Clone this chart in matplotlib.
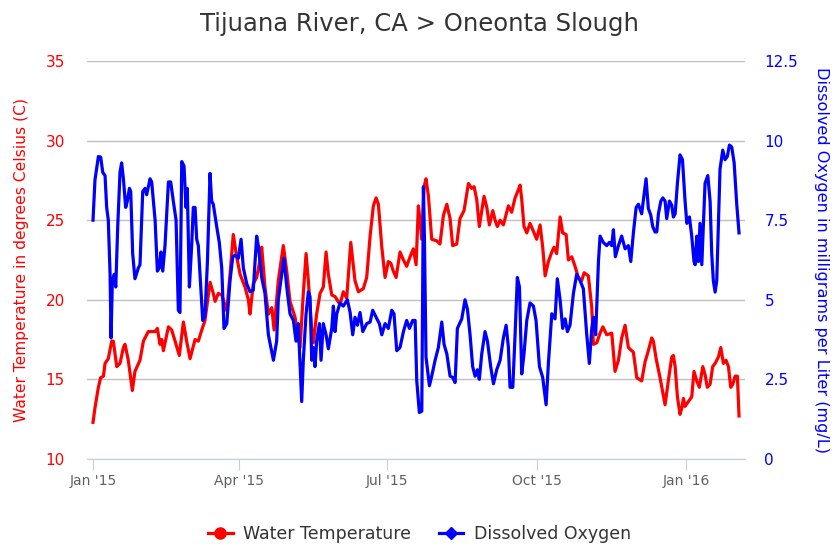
import pandas as pd
import matplotlib.pyplot as plt
import matplotlib.dates as mdates
from matplotlib.lines import Line2D

# Jours depuis le 1er janvier 2015 et valeurs
temp_days = [0, 1.2, 3.3, 4.7, 6.4, 7.4, 9.4, 11.5, 12.5, 14.6, 16.6, 18.7, 19.7, 21.7, 24.2, 25.8,
             28.9, 31, 34, 38.2, 39.6, 41.2, 42.3, 43.3, 46.4, 48.4, 50.5, 53.1, 55.6, 57.6, 59.7,
             62.8, 64.8, 66.9, 68.9, 72, 74, 75.1, 77.1, 79.2, 82.3, 84.3, 86.3, 88.4, 90.5, 93.5,
             95.6, 96.6, 98.6, 100.7, 102.8, 103.8, 105.8, 107.9, 110, 111.4, 114, 117.1, 119.2,
             121.2, 124.3, 127.4, 129.4, 131.1, 132.5, 134.6, 135.6, 137.6, 139.7, 141.7, 143.4,
             144.8, 146.9, 148.9, 152, 154, 156.1, 158.6, 161.2, 163.3, 166.3, 168.4, 170.5, 172.5,
             174.2, 175.6, 177.7, 179.7, 181.7, 183.2, 184.8, 186.5, 188.9, 191, 193, 195.1, 197.1,
             198.8, 200.2, 201.2, 202.3, 203.7, 204.9, 206.4, 208.4, 211.5, 213.5, 215.6, 217.7,
             219.7, 221.3, 223.8, 225.8, 228.3, 231, 233, 234.5, 236.1, 237.7, 239.2, 240.6, 242.3,
             243.9, 246, 247.4, 248.8, 250.5, 252.5, 255.6, 257.6, 259.7, 261.7, 262.8, 263.8,
             265.2, 266.9, 268.9, 271, 273, 275.1, 276.7, 278.2, 280.2, 282.3, 283.7, 285.3, 287.4,
             289, 291.1, 292.5, 294.6, 296.6, 298.6, 300.7, 302.2, 304.8, 306.9, 307.9, 310, 312,
             313.7, 316.1, 319.2, 321.2, 323.3, 325.3, 327.4, 329.4, 332.5, 334.6, 337.6, 339.7,
             341.7, 343.8, 344.8, 346.5, 348.9, 352, 354, 356.1, 357.1, 358.2, 359.6, 361.2, 362.3,
             363.3, 364.3, 366.3, 368.4, 369.8, 371.5, 373.1, 375.2, 376.6, 378, 379.7, 381.3,
             382.8, 384.8, 386.3, 387.9, 389.5, 391, 392.4, 393.7, 395.1, 396.5, 397.5]
temp_values = [12.3, 13.2, 14.5, 15.1, 15.2, 16.0, 16.3, 17.4, 17.4, 15.8, 16.0, 17.0, 17.2, 16.2,
               14.3, 15.5, 16.2, 17.4, 18.0, 18.0, 18.2, 17.2, 17.5, 16.8, 18.3, 18.1, 17.4, 16.5,
               18.6, 17.4, 16.3, 17.5, 17.4, 18.1, 18.7, 21.1, 20.4, 19.9, 20.4, 20.3, 19.3, 21.6,
               24.1, 22.7, 21.6, 20.8, 20.0, 19.1, 21.0, 21.4, 22.5, 23.3, 20.8, 19.1, 19.5, 18.1,
               21.2, 23.4, 21.8, 19.9, 18.9, 17.0, 20.4, 22.9, 21.2, 18.1, 17.3, 19.1, 20.4, 20.8,
               23.0, 21.6, 20.3, 20.2, 19.7, 20.5, 20.1, 23.6, 21.2, 20.5, 20.7, 21.4, 24.0, 25.9,
               26.4, 26.0, 23.3, 21.4, 22.4, 22.3, 21.8, 21.4, 23.0, 22.5, 22.1, 22.7, 23.2, 22.2,
               25.9, 25.0, 23.8, 27.1, 27.6, 26.5, 23.8, 23.7, 23.5, 25.3, 26.0, 25.1, 23.4, 23.5,
               25.1, 25.6, 27.3, 27.0, 27.1, 26.3, 24.6, 25.6, 26.5, 25.8, 24.7, 25.6, 25.0, 24.6,
               25.0, 24.7, 25.9, 25.5, 26.4, 26.9, 27.2, 26.3, 24.6, 24.2, 24.8, 24.3, 23.8, 24.7,
               23.3, 21.5, 22.4, 23.0, 23.3, 22.9, 25.2, 24.2, 24.1, 22.5, 22.7, 22.1, 21.4, 21.2,
               21.7, 21.5, 19.5, 17.2, 17.3, 17.9, 18.3, 17.8, 17.9, 15.5, 16.2, 17.6, 18.4, 17.0,
               16.7, 15.1, 14.9, 16.1, 16.8, 17.6, 17.4, 16.3, 15.1, 13.4, 14.9, 16.4, 16.5, 15.8,
               13.9, 12.8, 13.2, 13.8, 13.3, 13.6, 13.9, 15.5, 14.9, 14.5, 15.8, 15.3, 14.5, 14.7,
               15.8, 16.0, 16.4, 17.0, 16.0, 16.2, 15.8, 14.5, 14.7, 15.2, 15.2, 12.7]

do_days = [0, 1.2, 3.3, 4.7, 6, 7.4, 8.4, 9.4, 10.5, 11.1, 11.9, 13.1, 14, 15.2, 16.6, 17.6, 18.7,
           20.1, 21.1, 22.4, 23.2, 24.4, 25.8, 27.9, 28.9, 30.6, 32, 33, 35.1, 36.1, 38.2, 39.6,
           40.8, 41.8, 42.9, 44.3, 46.4, 47.8, 49.4, 51.1, 52.5, 53.5, 54.6, 56, 57.2, 58, 59.3,
           60.7, 61.7, 62.8, 63.8, 64.8, 66.3, 67.5, 68.9, 70.4, 72, 73, 74, 76.1, 77.7, 79.2,
           80.6, 82.3, 84.3, 86, 87.4, 89.4, 91.1, 92.5, 94.6, 96.6, 98.6, 100.7, 101.7, 103.8,
           105.8, 107.9, 111, 113, 114, 116.1, 117.5, 119.2, 121.2, 123.3, 124.9, 126.3, 128.4,
           129.4, 131.1, 132.5, 133.5, 134.6, 135.6, 136.6, 137.6, 139.3, 140.3, 141.7, 143.4,
           144.8, 146.9, 147.9, 148.9, 150, 152, 154, 156.5, 158.2, 159.8, 161.2, 162.7, 164.3,
           166, 168.4, 170.5, 172.1, 174.2, 176.2, 177.7, 179.7, 181.7, 183.8, 185.2, 186.9,
           188.9, 191, 193, 194.7, 196.7, 198.2, 199.2, 200.8, 202.3, 203.3, 203.9, 204.9, 207,
           208.4, 210.5, 212.5, 214.6, 216, 217.7, 219.7, 221.3, 222.8, 224.2, 226.9, 228.9,
           230.4, 232, 233.6, 235.1, 236.5, 237.7, 239.2, 241.2, 242.7, 244.7, 246.4, 248.4,
           250.5, 252.5, 254.2, 255.6, 256.6, 258.3, 259.7, 261.1, 262.4, 263.8, 265.2, 266.9,
           268.9, 271, 272.6, 274.7, 276.7, 278.8, 280.2, 282.3, 284.3, 285.7, 287.4, 289, 290.5,
           291.9, 293.5, 295.6, 297.6, 299.7, 301.7, 303.8, 305.4, 306.9, 307.9, 309.3, 311, 312,
           314, 316.1, 317.7, 319.2, 320.2, 321.4, 323.3, 325.3, 327.4, 329.4, 330.9, 332.5,
           334.2, 335.6, 337.6, 339.1, 340.3, 341.7, 343.2, 344.4, 345.8, 346.9, 347.9, 349.4,
           350.6, 352, 353, 354.7, 356.1, 357.1, 358.2, 359.6, 361.2, 362.7, 364.3, 365.4, 367,
           368.4, 369.8, 370.5, 371.5, 372.5, 373.5, 374.6, 375.6, 376.6, 378.3, 379.7, 380.7,
           381.7, 382.8, 383.8, 384.8, 385.8, 387.5, 388.9, 390.3, 391.6, 393, 394.5, 396.1, 397.5]
do_values = [7.5, 8.76, 9.5, 9.48, 9.0, 8.9, 7.9, 7.5, 5.8, 3.8, 5.6, 5.8, 5.4, 7.3, 9.0, 9.3, 8.8,
             7.9, 8.1, 8.5, 8.4, 6.45, 5.66, 6.0, 6.1, 8.4, 8.5, 8.3, 8.8, 8.7, 7.5, 5.9, 6.0, 6.5,
             5.9, 6.7, 8.7, 8.7, 8.1, 7.5, 4.67, 4.6, 9.34, 9.2, 7.9, 8.5, 5.4, 6.7, 7.9, 7.9, 6.9,
             6.7, 5.4, 4.35, 4.5, 6.2, 8.97, 8.1, 8.0, 7.3, 6.8, 6.0, 4.1, 4.25, 5.6, 6.35, 6.4, 6.3,
             6.9, 6.0, 5.5, 5.25, 5.3, 7.0, 6.7, 5.7, 5.2, 3.9, 3.1, 3.7, 5.0, 5.8, 6.3, 5.4, 4.56,
             4.35, 3.7, 4.25, 1.8, 3.1, 4.56, 5.25, 5.1, 3.1, 3.5, 2.9, 3.7, 4.25, 3.1, 4.25, 3.9,
             3.46, 4.1, 4.8, 4.0, 4.56, 4.9, 4.8, 5.0, 4.6, 3.9, 4.45, 4.2, 4.6, 4.0, 4.25, 4.3,
             4.67, 4.45, 4.25, 3.9, 4.25, 4.1, 4.67, 4.56, 3.4, 3.5, 4.0, 4.35, 4.1, 4.35, 4.35,
             2.46, 1.46, 1.5, 8.55, 7.0, 3.2, 2.3, 2.6, 3.1, 3.5, 4.3, 3.6, 3.3, 2.6, 2.56, 2.4,
             4.1, 4.4, 5.0, 4.7, 3.9, 2.9, 2.6, 2.8, 2.5, 3.3, 4.0, 3.7, 2.9, 2.36, 2.8, 3.1, 3.8,
             4.2, 3.5, 2.25, 2.25, 3.9, 5.7, 5.4, 2.67, 3.3, 4.35, 4.9, 4.8, 4.35, 2.9, 2.56, 1.7,
             3.0, 4.56, 4.4, 5.66, 5.0, 4.1, 4.4, 4.0, 4.2, 5.2, 5.8, 5.6, 5.35, 3.9, 3.0, 4.1,
             4.45, 3.9, 6.2, 7.0, 6.8, 6.7, 6.8, 6.7, 7.2, 6.35, 6.7, 7.0, 6.6, 6.7, 6.2, 7.1, 7.9,
             8.0, 7.7, 8.3, 8.8, 7.87, 7.66, 7.3, 7.13, 7.13, 7.7, 8.1, 8.2, 8.1, 7.55, 8.1, 7.97,
             7.6, 7.7, 8.66, 9.55, 9.4, 8.1, 7.4, 7.6, 7.0, 6.2, 6.1, 7.0, 6.2, 7.4, 6.1, 7.4, 8.66,
             8.9, 8.1, 6.45, 5.6, 5.24, 5.6, 7.3, 9.1, 9.7, 9.4, 9.5, 9.86, 9.8, 9.3, 8.0, 7.1]

temp_ticks = [10, 15, 20, 25, 30, 35]
do_ticks = [0, 2.5, 5, 7.5, 10, 12.5]
do_tick_labels = ['0', '2.5', '5', '7.5', '10', '12.5']

start = pd.Timestamp('2015-01-01')
temp_dates = start + pd.to_timedelta(temp_days, unit='D')
do_dates = start + pd.to_timedelta(do_days, unit='D')

plt.rcParams['font.family'] = ['DejaVu Sans']

fig = plt.figure(figsize=(8.39, 5.47), dpi=100)
ax = fig.add_axes([0.1037, 0.161, 0.7843, 0.7275])
ax2 = ax.twinx()

red = '#FF0000'
blue = '#0000FF'

ax.plot(temp_dates, temp_values, color=red, lw=2.3, zorder=3)
ax2.plot(do_dates, do_values, color=blue, lw=2.3, zorder=3)

ax.set_ylim(10, 35)
ax.set_yticks(temp_ticks)
ax2.set_ylim(0, 12.5)
ax2.set_yticks(do_ticks)
ax2.set_yticklabels(do_tick_labels)

ax.set_xlim(start - pd.Timedelta(days=3.7), start + pd.Timedelta(days=401.2))
month_ticks = pd.to_datetime(['2015-01-01', '2015-04-01', '2015-07-01', '2015-10-01', '2016-01-01'])
ax.set_xticks(month_ticks)
ax.xaxis.set_major_formatter(mdates.DateFormatter("%b '%y"))

ax.grid(axis='y', color='#C0C0C0', lw=1)
ax.set_axisbelow(True)
for a in (ax, ax2):
    for s in ('left', 'right', 'top', 'bottom'):
        a.spines[s].set_visible(False)
ax.spines['bottom'].set_visible(True)
ax.spines['bottom'].set_color('#C0D0E0')

ax.tick_params(axis='x', colors='#606060', labelsize=10, length=8, color='#C0D0E0', pad=3)
ax.tick_params(axis='y', colors=red, labelsize=11, length=0, pad=16)
ax2.tick_params(axis='y', colors=blue, labelsize=11, length=0, pad=14)

ax.set_ylabel('Water Temperature in degrees Celsius (C)', color=red, fontsize=11.2, labelpad=12)
ax2.set_ylabel('Dissolved Oxygen in milligrams per Liter (mg/L)', color=blue, fontsize=11.6,
               rotation=270, labelpad=22)

fig.suptitle('Tijuana River, CA > Oneonta Slough', x=0.5, y=0.978, fontsize=17.5, color='#333333')

handles = [Line2D([], [], color=red, lw=2.3, marker='o', markersize=8),
           Line2D([], [], color=blue, lw=2.3, marker='D', markersize=6)]
fig.legend(handles, ['Water Temperature', 'Dissolved Oxygen'], loc='lower center',
           bbox_to_anchor=(0.5, -0.022), ncol=2, frameon=False, fontsize=12.5,
           handlelength=1.4, handletextpad=0.6, columnspacing=1.6, labelcolor='#333333')

fig.savefig('out.png', dpi=100)
